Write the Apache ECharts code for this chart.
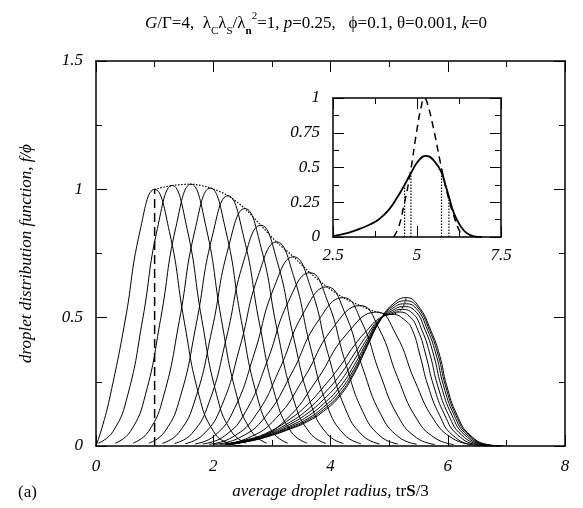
<!DOCTYPE html>
<html>
<head>
<meta charset="utf-8">
<script src="https://cdn.jsdelivr.net/npm/echarts@6/dist/echarts.min.js"></script>
<style>html,body{margin:0;padding:0;background:#fff}#c{width:583px;height:508px}</style>
</head>
<body>
<div id="c"></div>
<script>
// ---- tick labels / axis ranges ----
const mainX = [0, 2, 4, 6, 8];
const mainY = [0, 0.5, 1, 1.5];
const insetX = [2.5, 5, 7.5];
const insetY = [0, 0.25, 0.5, 0.75, 1];

// ---- main panel: successive distribution curves [x, f/phi] ----
const c01 = [[0,0],[0.12,0.085],[0.244,0.198],[0.496,0.487],[0.748,0.835],[1.0,1.0],[1.252,0.835],[1.504,0.487],[1.756,0.198],[2.008,0.056],[2.26,0.011],[2.5,0]];
const c02 = [[0.04,0.011],[0.292,0.057],[0.544,0.201],[0.796,0.494],[1.048,0.848],[1.30,1.015],[1.552,0.848],[1.804,0.494],[2.056,0.201],[2.308,0.057],[2.56,0.011]];
const c03 = [[0.33,0.011],[0.588,0.057],[0.846,0.202],[1.104,0.497],[1.362,0.852],[1.62,1.02],[1.878,0.852],[2.136,0.497],[2.394,0.202],[2.652,0.057],[2.91,0.011]];
const c04 = [[0.63,0.011],[0.894,0.056],[1.158,0.199],[1.422,0.489],[1.686,0.839],[1.95,1.005],[2.214,0.839],[2.478,0.489],[2.742,0.199],[3.006,0.056],[3.27,0.011]];
const c05 = [[0.90,0.011],[1.17,0.055],[1.44,0.193],[1.71,0.475],[1.98,0.814],[2.25,0.975],[2.52,0.814],[2.79,0.475],[3.06,0.193],[3.33,0.055],[3.60,0.011]];
const c06 = [[1.13,0.010],[1.412,0.052],[1.694,0.183],[1.976,0.450],[2.258,0.773],[2.54,0.925],[2.816,0.773],[3.092,0.450],[3.368,0.183],[3.644,0.052],[3.92,0.010]];
const c07 = [[1.34,0.010],[1.634,0.048],[1.928,0.170],[2.222,0.419],[2.516,0.718],[2.81,0.86],[3.092,0.718],[3.374,0.419],[3.656,0.170],[3.938,0.048],[4.22,0.010]];
const c08 = [[1.52,0.009],[1.832,0.045],[2.144,0.157],[2.456,0.387],[2.768,0.664],[3.08,0.795],[3.368,0.664],[3.656,0.387],[3.944,0.157],[4.232,0.045],[4.52,0.009]];
const c09 = [[1.69,0.008],[2.026,0.041],[2.362,0.146],[2.698,0.359],[3.034,0.616],[3.37,0.737],[3.664,0.616],[3.958,0.359],[4.252,0.146],[4.546,0.041],[4.84,0.008]];
const c10 = [[1.82,0.008],[2.186,0.038],[2.552,0.134],[2.918,0.329],[3.284,0.564],[3.65,0.675],[3.95,0.564],[4.25,0.329],[4.55,0.134],[4.85,0.038],[5.15,0.008]];
const c11 = [[1.93,0.007],[2.332,0.035],[2.734,0.123],[3.136,0.302],[3.538,0.518],[3.94,0.62],[4.246,0.518],[4.552,0.302],[4.858,0.123],[5.164,0.035],[5.47,0.007]];
const c12 = [[2.0,0.006],[2.444,0.032],[2.888,0.114],[3.332,0.281],[3.776,0.483],[4.22,0.578],[4.532,0.483],[4.844,0.281],[5.156,0.114],[5.468,0.032],[5.78,0.006]];
const c13 = [[2.11,0.006],[2.59,0.031],[3.07,0.108],[3.55,0.266],[4.03,0.457],[4.51,0.547],[4.828,0.457],[5.146,0.266],[5.464,0.108],[5.782,0.031],[6.10,0.006]];
const c14 = [[2.21,0.006],[2.726,0.029],[3.242,0.103],[3.758,0.254],[4.274,0.436],[4.79,0.522],[5.114,0.436],[5.438,0.254],[5.762,0.103],[6.086,0.029],[6.41,0.006]];
const c15 = [[2.2,0.008],[2.6,0.026],[2.95,0.055],[3.31,0.105],[3.60,0.16],[3.88,0.23],[4.16,0.31],[4.40,0.39],[4.62,0.45],[4.85,0.50],[5.05,0.513],[5.27,0.49],[5.40,0.45],[5.53,0.35],[5.66,0.237],[5.86,0.12],[6.08,0.043],[6.45,0.004],[6.7,0]];
const c16 = [[2.2,0.007],[2.6,0.024],[2.95,0.050],[3.31,0.093],[3.60,0.140],[3.88,0.202],[4.16,0.276],[4.40,0.357],[4.62,0.431],[4.85,0.497],[5.05,0.515],[5.15,0.522],[5.339,0.507],[5.494,0.45],[5.631,0.35],[5.756,0.237],[5.95,0.12],[6.17,0.043],[6.531,0.004],[6.75,0]];
const c17 = [[2.2,0.006],[2.6,0.022],[2.95,0.046],[3.31,0.085],[3.60,0.126],[3.88,0.181],[4.16,0.250],[4.40,0.333],[4.62,0.416],[4.85,0.495],[5.05,0.520],[5.20,0.532],[5.39,0.519],[5.562,0.45],[5.705,0.35],[5.826,0.237],[6.016,0.12],[6.236,0.043],[6.59,0.004],[6.8,0]];
const c18 = [[2.2,0.006],[2.6,0.020],[2.95,0.043],[3.31,0.078],[3.60,0.114],[3.88,0.164],[4.16,0.230],[4.40,0.313],[4.62,0.405],[4.85,0.493],[5.05,0.527],[5.24,0.543],[5.431,0.529],[5.618,0.45],[5.765,0.35],[5.884,0.237],[6.07,0.12],[6.29,0.043],[6.639,0.004],[6.85,0]];
const c19 = [[2.2,0.006],[2.6,0.019],[2.95,0.041],[3.31,0.073],[3.60,0.105],[3.88,0.151],[4.16,0.215],[4.40,0.299],[4.62,0.396],[4.85,0.492],[5.05,0.535],[5.26,0.554],[5.461,0.536],[5.659,0.45],[5.809,0.35],[5.926,0.237],[6.109,0.12],[6.329,0.043],[6.674,0.004],[6.9,0]];
const c20 = [[2.2,0.005],[2.6,0.019],[2.95,0.039],[3.31,0.069],[3.60,0.099],[3.88,0.142],[4.16,0.203],[4.40,0.288],[4.62,0.390],[4.85,0.491],[5.05,0.543],[5.28,0.566],[5.484,0.541],[5.690,0.45],[5.842,0.35],[5.958,0.237],[6.139,0.12],[6.359,0.043],[6.701,0.004],[6.92,0]];
const c21 = [[2.2,0.005],[2.6,0.018],[2.95,0.038],[3.31,0.066],[3.60,0.094],[3.88,0.135],[4.16,0.195],[4.40,0.28],[4.62,0.385],[4.85,0.49],[5.05,0.55],[5.29,0.578],[5.50,0.545],[5.712,0.45],[5.866,0.35],[5.98,0.237],[6.16,0.12],[6.38,0.043],[6.72,0.004],[6.95,0]];

// locus of the maxima (dotted) and the initial radius (dashed)
const peakLocus = [[1.0,1.0],[1.30,1.015],[1.62,1.02],[1.95,1.005],[2.25,0.975],[2.54,0.925],[2.81,0.86],[3.08,0.795],[3.37,0.737],[3.65,0.675],[3.94,0.62],[4.22,0.578],[4.51,0.547],[4.79,0.522],[5.05,0.513],[5.15,0.522],[5.20,0.532],[5.24,0.543],[5.26,0.554],[5.28,0.566],[5.29,0.578]];
const initLine = [[1,0],[1,1.0]];

// ---- inset ----
const insetSolid = [[2.5,0.006],[2.95,0.03],[3.31,0.06],[3.60,0.09],[3.88,0.13],[4.16,0.195],[4.40,0.28],[4.63,0.375],[4.82,0.46],[5.05,0.55],[5.27,0.583],[5.50,0.55],[5.73,0.465],[5.85,0.37],[5.95,0.29],[6.10,0.17],[6.28,0.085],[6.48,0.028],[6.70,0.005],[6.93,0]];
const insetDashed = [[4.31,0],[4.45,0.07],[4.59,0.205],[4.79,0.446],[4.99,0.759],[5.12,0.93],[5.22,1.0],[5.29,0.976],[5.49,0.783],[5.69,0.542],[5.89,0.325],[6.09,0.157],[6.28,0.036],[6.40,0]];
const insetDot1 = [[4.63,0],[4.63,0.375]];
const insetDot2 = [[4.82,0],[4.82,0.46]];
const insetDot3 = [[5.73,0],[5.73,0.465]];
const insetDot4 = [[5.95,0],[5.95,0.29]];

const curves = [c01,c02,c03,c04,c05,c06,c07,c08,c09,c10,c11,c12,c13,c14,c15,c16,c17,c18,c19,c20,c21];

const FONT = 'Liberation Serif';
const BLACK = '#000';

function axisCommon(extra) {
  return Object.assign({
    type: 'value',
    axisLine: { show: true, onZero: false, lineStyle: { color: BLACK, width: 1.5 } },
    axisTick: { show: true, inside: true, length: 11, lineStyle: { color: BLACK, width: 1 } },
    minorTick: { show: true, splitNumber: 2, length: 6, lineStyle: { color: BLACK, width: 1 } },
    splitLine: { show: false },
    minorSplitLine: { show: false },
    axisLabel: { show: true, color: BLACK, fontFamily: FONT, fontStyle: 'italic', fontSize: 17, showMinLabel: true, showMaxLabel: true }
  }, extra);
}
function noLabel(a) { a.axisLabel = { show: false }; return a; }

const series = [];
curves.forEach(function (d) {
  series.push({ type: 'line', xAxisIndex: 0, yAxisIndex: 0, data: d, smooth: 0.5, showSymbol: false, lineStyle: { color: BLACK, width: 1 } });
});
series.push({ type: 'line', xAxisIndex: 0, yAxisIndex: 0, data: peakLocus, smooth: 0.3, showSymbol: false, lineStyle: { color: BLACK, width: 1.2, type: [1.5, 1.5] } });
series.push({ type: 'line', xAxisIndex: 0, yAxisIndex: 0, data: initLine, showSymbol: false, lineStyle: { color: BLACK, width: 1.5, type: [9, 5] } });
series.push({ type: 'line', xAxisIndex: 2, yAxisIndex: 2, data: insetSolid, smooth: 0.5, showSymbol: false, lineStyle: { color: BLACK, width: 1.8 } });
series.push({ type: 'line', xAxisIndex: 2, yAxisIndex: 2, data: insetDashed, smooth: 0.5, showSymbol: false, lineStyle: { color: BLACK, width: 1.5, type: [7, 5] } });
[insetDot1, insetDot2, insetDot3, insetDot4].forEach(function (d) {
  series.push({ type: 'line', xAxisIndex: 2, yAxisIndex: 2, data: d, showSymbol: false, lineStyle: { color: BLACK, width: 1.2, type: [1.5, 1.5] } });
});

const option = {
  animation: false,
  backgroundColor: '#fff',
  title: {
    left: 140, top: 6,
    text: '{i|G}/Γ=4,  λ{s|C}λ{s|S}/λ{sb|n}{p|2}=1, {i|p}=0.25,   ϕ=0.1, θ=0.001, {i|k}=0',
    textStyle: {
      color: BLACK, fontFamily: FONT, fontSize: 17, fontWeight: 'normal', lineHeight: 26,
      rich: {
        i: { fontFamily: FONT, fontStyle: 'italic', fontSize: 17, lineHeight: 26, color: BLACK },
        s: { fontFamily: FONT, fontSize: 11, lineHeight: 11, verticalAlign: 'bottom', color: BLACK },
        sb: { fontFamily: FONT, fontSize: 11, fontWeight: 'bold', lineHeight: 11, verticalAlign: 'bottom', color: BLACK },
        p: { fontFamily: FONT, fontSize: 11, lineHeight: 11, verticalAlign: 'top', color: BLACK }
      }
    }
  },
  grid: [
    { left: 96, top: 61, width: 469, height: 385, containLabel: false },
    { left: 333, top: 98, width: 168, height: 139, containLabel: false }
  ],
  xAxis: [
    axisCommon({ gridIndex: 0, position: 'bottom', min: mainX[0], max: mainX[mainX.length - 1], interval: mainX[1] - mainX[0],
      axisLabel: { show: true, color: BLACK, fontFamily: FONT, fontStyle: 'italic', fontSize: 17, margin: 12, showMinLabel: true, showMaxLabel: true },
      name: '{it|average droplet radius,} {rm|tr}{bf|S}{rm|/3}', nameLocation: 'middle', nameGap: 37,
      nameTextStyle: { color: BLACK, fontFamily: FONT, fontSize: 17,
        rich: {
          it: { fontFamily: FONT, fontStyle: 'italic', fontSize: 17, color: BLACK },
          rm: { fontFamily: FONT, fontSize: 17, color: BLACK },
          bf: { fontFamily: FONT, fontSize: 17, fontWeight: 'bold', color: BLACK }
        } } }),
    noLabel(axisCommon({ gridIndex: 0, position: 'top', min: mainX[0], max: mainX[mainX.length - 1], interval: mainX[1] - mainX[0] })),
    axisCommon({ gridIndex: 1, position: 'bottom', min: insetX[0], max: insetX[insetX.length - 1], interval: insetX[1] - insetX[0],
      axisLabel: { show: true, color: BLACK, fontFamily: FONT, fontStyle: 'italic', fontSize: 17, margin: 10, showMinLabel: true, showMaxLabel: true } }),
    noLabel(axisCommon({ gridIndex: 1, position: 'top', min: insetX[0], max: insetX[insetX.length - 1], interval: insetX[1] - insetX[0] }))
  ],
  yAxis: [
    axisCommon({ gridIndex: 0, position: 'left', min: mainY[0], max: mainY[mainY.length - 1], interval: mainY[1] - mainY[0],
      axisLabel: { show: true, color: BLACK, fontFamily: FONT, fontStyle: 'italic', fontSize: 17, margin: 13, showMinLabel: true, showMaxLabel: true },
      name: 'droplet distribution function, f/ϕ', nameLocation: 'middle', nameGap: 61,
      nameTextStyle: { color: BLACK, fontFamily: FONT, fontStyle: 'italic', fontSize: 17 } }),
    noLabel(axisCommon({ gridIndex: 0, position: 'right', min: mainY[0], max: mainY[mainY.length - 1], interval: mainY[1] - mainY[0] })),
    axisCommon({ gridIndex: 1, position: 'left', min: insetY[0], max: insetY[insetY.length - 1], interval: insetY[1] - insetY[0],
      axisLabel: { show: true, color: BLACK, fontFamily: FONT, fontStyle: 'italic', fontSize: 17, margin: 13, showMinLabel: true, showMaxLabel: true } }),
    noLabel(axisCommon({ gridIndex: 1, position: 'right', min: insetY[0], max: insetY[insetY.length - 1], interval: insetY[1] - insetY[0] }))
  ],
  graphic: [
    { type: 'text', left: 18, top: 484, style: { text: '(a)', font: '17px "Liberation Serif"', fill: BLACK } }
  ],
  series: series
};

const chart = echarts.init(document.getElementById('c'), null, { renderer: 'canvas' });
chart.setOption(option);
</script>
</body>
</html>
